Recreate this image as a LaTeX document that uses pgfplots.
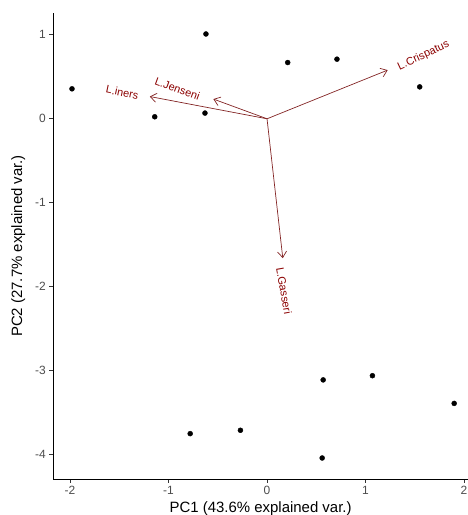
\documentclass[border=0pt]{standalone}
\usepackage{pgfplots}
\pgfplotsset{compat=1.18}
\usepackage{fontspec}
\setmainfont{Liberation Sans}
\usetikzlibrary{arrows.meta}
\definecolor{arrowred}{HTML}{832424}
\definecolor{labred}{HTML}{8B0000}
\definecolor{ticklab}{HTML}{4D4D4D}
\begin{document}
\begin{tikzpicture}
\begin{axis}[
  scale only axis,
  width=414.7bp, height=466bp,
  xmin=-2.17, xmax=2.04, ymin=-4.29, ymax=1.26,
  axis lines=left,
  axis line style={-, black, line width=0.8bp},
  tick align=outside,
  major tick length=4bp,
  tick style={color=black!80, line width=0.8bp},
  xtick={-2,-1,0,1,2}, xticklabels={-2,-1,0,1,2},
  ytick={-4,-3,-2,-1,0,1}, yticklabels={-4,-3,-2,-1,0,1},
  tick label style={font=\fontsize{12}{14}\selectfont, color=ticklab},
  xlabel={PC1 (43.6\% explained var.)},
  ylabel={PC2 (27.7\% explained var.)},
  ylabel shift=3bp,
  label style={font=\fontsize{15}{18}\selectfont},
  clip=false,
]
\addplot[only marks, mark=*, mark size=2.5bp, black] coordinates {
(-1.98,0.357) (-1.14,0.024) (-0.63,0.068) (-0.62,1.01) (0.21,0.67) (0.71,0.71) (1.55,0.38)
(0.57,-3.11) (1.07,-3.06) (1.90,-3.39) (-0.78,-3.75) (-0.27,-3.71) (0.56,-4.04)
};
\addplot[arrowred, line width=0.7bp, -{Straight Barb[length=6bp, width=9bp]}] coordinates {(0,0) (1.225,0.58)};
\addplot[arrowred, line width=0.7bp, -{Straight Barb[length=6bp, width=9bp]}] coordinates {(0,0) (-0.545,0.235)};
\addplot[arrowred, line width=0.7bp, -{Straight Barb[length=6bp, width=9bp]}] coordinates {(0,0) (-1.19,0.265)};
\addplot[arrowred, line width=0.7bp, -{Straight Barb[length=6bp, width=9bp]}] coordinates {(0,0) (0.16,-1.66)};
\node[text=labred, inner sep=0pt, font=\fontsize{11}{13}\selectfont, rotate=25] at (axis cs:1.59,0.75) {L.Crispatus};
\node[text=labred, inner sep=0pt, font=\fontsize{11}{13}\selectfont, rotate=-20] at (axis cs:-0.91,0.357) {L.Jenseni};
\node[text=labred, inner sep=0pt, font=\fontsize{11}{13}\selectfont, rotate=-12] at (axis cs:-1.47,0.315) {L.iners};
\node[text=labred, inner sep=0pt, font=\fontsize{11}{13}\selectfont, rotate=-80] at (axis cs:0.173,-2.05) {L.Gasseri};
\coordinate (bbsw) at (rel axis cs:-0.1285,-0.0773);
\coordinate (bbne) at (rel axis cs:1,1.0279);
\end{axis}
\pgfresetboundingbox
\path[use as bounding box] (bbsw) rectangle (bbne);
\end{tikzpicture}
\end{document}
